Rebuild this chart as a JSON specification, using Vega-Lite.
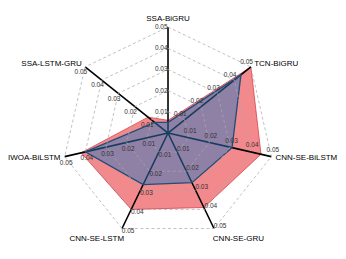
{
  "$schema": "https://vega.github.io/schema/vega-lite/v6.json",
  "width": 346,
  "height": 259,
  "padding": 0,
  "autosize": {"type": "none"},
  "config": {"view": {"stroke": null}, "text": {"font": "Liberation Sans"}},
  "datasets": {
    "axes": [
      {"axis": "SSA-BiGRU"},
      {"axis": "TCN-BiGRU"},
      {"axis": "CNN-SE-BiLSTM"},
      {"axis": "CNN-SE-GRU"},
      {"axis": "CNN-SE-LSTM"},
      {"axis": "IWOA-BiLSTM"},
      {"axis": "SSA-LSTM-GRU"}
    ],
    "scores": [
      {"axis": "SSA-BiGRU", "series": "1", "value": 0.006},
      {"axis": "TCN-BiGRU", "series": "1", "value": 0.05},
      {"axis": "CNN-SE-BiLSTM", "series": "1", "value": 0.045},
      {"axis": "CNN-SE-GRU", "series": "1", "value": 0.039},
      {"axis": "CNN-SE-LSTM", "series": "1", "value": 0.040},
      {"axis": "IWOA-BiLSTM", "series": "1", "value": 0.042},
      {"axis": "SSA-LSTM-GRU", "series": "1", "value": 0.012},
      {"axis": "SSA-BiGRU", "series": "2", "value": 0.005},
      {"axis": "TCN-BiGRU", "series": "2", "value": 0.044},
      {"axis": "CNN-SE-BiLSTM", "series": "2", "value": 0.031},
      {"axis": "CNN-SE-GRU", "series": "2", "value": 0.026},
      {"axis": "CNN-SE-LSTM", "series": "2", "value": 0.027},
      {"axis": "IWOA-BiLSTM", "series": "2", "value": 0.040},
      {"axis": "SSA-LSTM-GRU", "series": "2", "value": 0.008}
    ]
  },
  "encoding": {
    "x": {"field": "x", "type": "quantitative", "scale": {"domain": [-0.07925, 0.08396], "nice": false, "zero": false}, "axis": null},
    "y": {"field": "y", "type": "quantitative", "scale": {"domain": [-0.05943, 0.06274], "nice": false, "zero": false}, "axis": null}
  },
  "layer": [
    {
      "data": {"name": "scores"},
      "transform": [
        {"filter": "datum.series == '1'"},
        {"calculate": "indexof(['SSA-BiGRU','TCN-BiGRU','CNN-SE-BiLSTM','CNN-SE-GRU','CNN-SE-LSTM','IWOA-BiLSTM','SSA-LSTM-GRU'], datum.axis)", "as": "idx"},
        {"calculate": "datum.value * sin(datum.idx * 2 * PI / 7)", "as": "x"},
        {"calculate": "datum.value * cos(datum.idx * 2 * PI / 7)", "as": "y"}
      ],
      "mark": {"type": "line", "interpolate": "linear-closed", "fill": "#E8282E", "fillOpacity": 0.55, "stroke": "#D8434A", "strokeWidth": 0.8},
      "encoding": {"order": {"field": "idx", "type": "quantitative"}}
    },
    {
      "data": {"name": "axes"},
      "transform": [
        {"calculate": "indexof(['SSA-BiGRU','TCN-BiGRU','CNN-SE-BiLSTM','CNN-SE-GRU','CNN-SE-LSTM','IWOA-BiLSTM','SSA-LSTM-GRU'], datum.axis)", "as": "idx"},
        {"calculate": "0.05 * sin(datum.idx * 2 * PI / 7)", "as": "x"},
        {"calculate": "0.05 * cos(datum.idx * 2 * PI / 7)", "as": "y"}
      ],
      "mark": {"type": "rule", "color": "#000000", "strokeWidth": 1.6},
      "encoding": {"x2": {"datum": 0}, "y2": {"datum": 0}}
    },
    {
      "data": {"name": "scores"},
      "transform": [
        {"filter": "datum.series == '2'"},
        {"calculate": "indexof(['SSA-BiGRU','TCN-BiGRU','CNN-SE-BiLSTM','CNN-SE-GRU','CNN-SE-LSTM','IWOA-BiLSTM','SSA-LSTM-GRU'], datum.axis)", "as": "idx"},
        {"calculate": "datum.value * sin(datum.idx * 2 * PI / 7)", "as": "x"},
        {"calculate": "datum.value * cos(datum.idx * 2 * PI / 7)", "as": "y"}
      ],
      "mark": {"type": "line", "interpolate": "linear-closed", "fill": "#2C77BE", "fillOpacity": 0.5, "stroke": "#1F4E79", "strokeWidth": 1.3},
      "encoding": {"order": {"field": "idx", "type": "quantitative"}}
    },
    {
      "data": {"name": "axes"},
      "transform": [
        {"calculate": "[0.01, 0.02, 0.03, 0.04, 0.05]", "as": "level"},
        {"flatten": ["level"]},
        {"calculate": "indexof(['SSA-BiGRU','TCN-BiGRU','CNN-SE-BiLSTM','CNN-SE-GRU','CNN-SE-LSTM','IWOA-BiLSTM','SSA-LSTM-GRU'], datum.axis)", "as": "idx"},
        {"calculate": "datum.level * sin(datum.idx * 2 * PI / 7)", "as": "x"},
        {"calculate": "datum.level * cos(datum.idx * 2 * PI / 7)", "as": "y"}
      ],
      "mark": {"type": "line", "interpolate": "linear-closed", "stroke": "#A8A8A8", "strokeWidth": 0.8, "strokeDash": [3, 2.5], "opacity": 0.9},
      "encoding": {"detail": {"field": "level", "type": "nominal"}, "order": {"field": "idx", "type": "quantitative"}}
    },
    {
      "data": {"name": "axes"},
      "transform": [
        {"calculate": "[0.01, 0.02, 0.03, 0.04, 0.05]", "as": "level"},
        {"flatten": ["level"]},
        {"calculate": "indexof(['SSA-BiGRU','TCN-BiGRU','CNN-SE-BiLSTM','CNN-SE-GRU','CNN-SE-LSTM','IWOA-BiLSTM','SSA-LSTM-GRU'], datum.axis) * 2 * PI / 7", "as": "theta"},
        {"calculate": "datum.level * sin(datum.theta) - 0.0032 * cos(datum.theta)", "as": "x"},
        {"calculate": "datum.level * cos(datum.theta) + 0.0032 * sin(datum.theta)", "as": "y"}
      ],
      "mark": {"type": "text", "fontSize": 6.5, "color": "#333333", "align": "center", "baseline": "middle"},
      "encoding": {"text": {"field": "level", "type": "quantitative", "format": ".2f"}}
    },
    {
      "data": {"name": "axes"},
      "transform": [
        {"filter": "datum.axis == 'SSA-BiGRU'"},
        {"calculate": "0", "as": "x"},
        {"calculate": "0.052", "as": "y"}
      ],
      "mark": {"type": "text", "fontSize": 8, "color": "#000000", "align": "center", "baseline": "bottom"},
      "encoding": {"text": {"field": "axis"}}
    },
    {
      "data": {"name": "axes"},
      "transform": [
        {"filter": "datum.axis == 'TCN-BiGRU' || datum.axis == 'CNN-SE-BiLSTM'"},
        {"calculate": "indexof(['SSA-BiGRU','TCN-BiGRU','CNN-SE-BiLSTM','CNN-SE-GRU','CNN-SE-LSTM','IWOA-BiLSTM','SSA-LSTM-GRU'], datum.axis) * 2 * PI / 7", "as": "theta"},
        {"calculate": "0.052 * sin(datum.theta)", "as": "x"},
        {"calculate": "0.052 * cos(datum.theta)", "as": "y"}
      ],
      "mark": {"type": "text", "fontSize": 8, "color": "#000000", "align": "left", "baseline": "middle"},
      "encoding": {"text": {"field": "axis"}}
    },
    {
      "data": {"name": "axes"},
      "transform": [
        {"filter": "datum.axis == 'CNN-SE-GRU'"},
        {"calculate": "indexof(['SSA-BiGRU','TCN-BiGRU','CNN-SE-BiLSTM','CNN-SE-GRU','CNN-SE-LSTM','IWOA-BiLSTM','SSA-LSTM-GRU'], datum.axis) * 2 * PI / 7", "as": "theta"},
        {"calculate": "0.052 * sin(datum.theta)", "as": "x"},
        {"calculate": "0.052 * cos(datum.theta)", "as": "y"}
      ],
      "mark": {"type": "text", "fontSize": 8, "color": "#000000", "align": "left", "baseline": "top", "dx": -3, "dy": 3},
      "encoding": {"text": {"field": "axis"}}
    },
    {
      "data": {"name": "axes"},
      "transform": [
        {"filter": "datum.axis == 'CNN-SE-LSTM'"},
        {"calculate": "indexof(['SSA-BiGRU','TCN-BiGRU','CNN-SE-BiLSTM','CNN-SE-GRU','CNN-SE-LSTM','IWOA-BiLSTM','SSA-LSTM-GRU'], datum.axis) * 2 * PI / 7", "as": "theta"},
        {"calculate": "0.052 * sin(datum.theta)", "as": "x"},
        {"calculate": "0.052 * cos(datum.theta)", "as": "y"}
      ],
      "mark": {"type": "text", "fontSize": 8, "color": "#000000", "align": "right", "baseline": "top", "dx": 4, "dy": 3},
      "encoding": {"text": {"field": "axis"}}
    },
    {
      "data": {"name": "axes"},
      "transform": [
        {"filter": "datum.axis == 'IWOA-BiLSTM' || datum.axis == 'SSA-LSTM-GRU'"},
        {"calculate": "indexof(['SSA-BiGRU','TCN-BiGRU','CNN-SE-BiLSTM','CNN-SE-GRU','CNN-SE-LSTM','IWOA-BiLSTM','SSA-LSTM-GRU'], datum.axis) * 2 * PI / 7", "as": "theta"},
        {"calculate": "0.052 * sin(datum.theta)", "as": "x"},
        {"calculate": "0.052 * cos(datum.theta)", "as": "y"}
      ],
      "mark": {"type": "text", "fontSize": 8, "color": "#000000", "align": "right", "baseline": "middle"},
      "encoding": {"text": {"field": "axis"}}
    }
  ]
}
